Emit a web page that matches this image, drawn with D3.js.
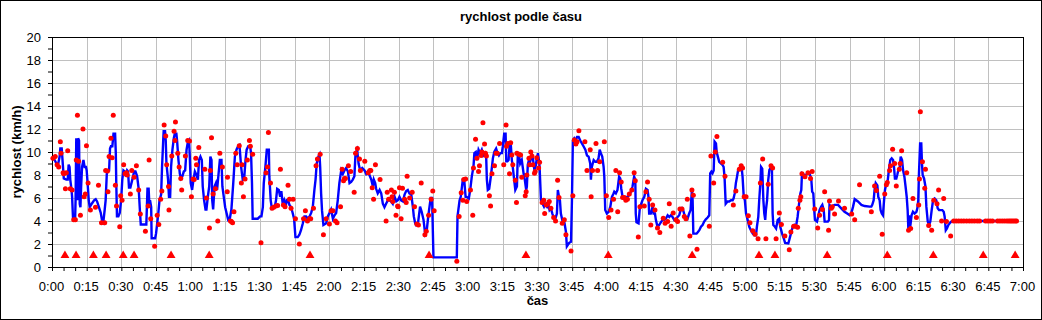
<!DOCTYPE html>
<html>
<head>
<meta charset="utf-8">
<script src="https://cdn.jsdelivr.net/npm/d3@7"></script>
<style>
  body { margin: 0; background: #fff; }
  svg { display: block; }
  text { font-family: "Liberation Sans", Arial, sans-serif; }
</style>
</head>
<body>
<div id="chart"></div>
<script>
// tick labels
var xTickLabels = ["0:00","0:15","0:30","0:45","1:00","1:15","1:30","1:45","2:00","2:15","2:30","2:45",
                   "3:00","3:15","3:30","3:45","4:00","4:15","4:30","4:45","5:00","5:15","5:30","5:45",
                   "6:00","6:15","6:30","6:45","7:00"];
var yTickLabels = ["0","2","4","6","8","10","12","14","16","18","20"];

// blue line: [minute, km/h]
var speedLine = [
  [0,9.45],[1.15,9.3],[1.9,9.0],[2.6,8.9],[3.3,9.6],[3.6,10.3],[4.2,10.3],[4.5,9.45],[5.1,7.7],[6.2,7.6],
  [6.8,7.6],[7.2,8.9],[7.6,8.7],[7.9,7.6],[8.4,6.8],[8.7,6.1],[9.1,4.2],[10.0,4.2],[10.2,5.8],[10.5,11.2],
  [11.0,5.8],[11.3,11.2],[11.7,11.0],[12.0,5.5],[12.3,5.2],[12.6,7.0],[13.0,8.7],[13.6,9.3],[14.1,8.7],[14.7,8.7],
  [15.0,8.4],[15.4,7.3],[15.9,5.8],[16.3,5.2],[17.2,5.5],[18.2,5.8],[18.9,5.9],[19.5,5.7],[20.3,5.2],[21.1,4.7],
  [21.6,4.1],[22.2,3.9],[22.8,5.0],[23.2,5.8],[23.7,8.1],[24.1,8.4],[24.7,8.4],[25.1,10.3],[25.5,10.5],[26.1,10.5],
  [26.6,11.6],[27.3,11.6],[27.6,9.9],[27.8,7.3],[28.1,4.4],[28.7,4.4],[29.3,4.7],[29.9,5.8],[30.4,7.6],[30.9,8.4],
  [31.5,8.3],[31.9,7.9],[32.5,8.4],[32.9,8.3],[33.3,6.9],[33.9,6.9],[34.5,7.4],[35.1,7.9],[35.5,8.3],[36.1,8.3],
  [36.8,7.9],[37.5,6.8],[38.0,5.0],[38.4,3.7],[40.8,3.7],[41.3,6.8],[41.8,6.8],[42.1,5.5],[42.4,5.8],[42.9,5.2],
  [43.1,2.5],[44.6,2.5],[45.0,2.9],[45.5,3.8],[46.0,4.7],[46.5,5.8],[47.2,6.3],[47.6,8.7],[48.1,11.0],[48.3,11.8],
  [48.9,11.8],[49.2,11.0],[49.5,9.0],[50.2,7.6],[50.6,6.1],[51.1,6.1],[51.5,8.7],[52.1,10.2],[52.7,11.2],[53.1,11.6],
  [53.8,11.6],[54.1,11.0],[54.7,9.3],[55.3,8.1],[55.8,7.7],[56.4,7.9],[57.0,8.3],[57.6,8.4],[58.2,10.2],[58.7,10.8],
  [59.3,11.0],[59.6,9.6],[60.0,7.3],[60.6,6.7],[61.2,7.6],[61.8,8.3],[62.5,8.0],[63.1,7.6],[63.6,9.3],[64.2,9.6],
  [64.8,9.3],[65.2,7.0],[65.8,5.8],[66.4,5.0],[66.8,5.0],[67.4,6.1],[68.0,7.0],[68.5,9.6],[69.0,9.3],[69.3,5.8],
  [69.7,5.0],[70.3,7.0],[70.9,7.3],[71.4,6.7],[72.0,8.0],[72.6,9.3],[73.3,9.3],[73.7,7.0],[74.3,6.1],[74.9,5.2],
  [75.5,4.7],[76.2,4.1],[76.9,4.2],[77.6,5.0],[78.4,7.3],[79.1,9.6],[79.8,10.2],[80.5,10.5],[81.1,10.6],[81.8,8.7],
  [82.5,7.6],[83.2,7.9],[83.7,9.3],[84.2,10.2],[84.9,10.5],[85.7,10.5],[86.1,9.9],[86.5,7.3],[86.8,4.2],[89.0,4.2],
  [90.0,4.4],[90.6,4.4],[91.2,5.2],[91.6,7.3],[92.3,8.7],[92.9,10.2],[93.8,10.2],[94.0,7.9],[94.6,5.8],[95.1,5.1],
  [95.8,5.2],[96.5,5.4],[96.9,5.8],[97.4,6.8],[98.1,6.7],[98.7,6.1],[99.2,6.6],[99.8,5.5],[100.4,5.8],[101.0,5.2],
  [101.5,5.8],[102.1,5.8],[102.7,5.4],[103.4,5.2],[104.1,4.7],[104.7,4.2],[105.3,2.6],[106.3,2.6],[107.0,2.8],[107.7,3.2],
  [108.5,3.8],[109.2,4.4],[109.9,4.4],[110.6,4.2],[111.4,4.4],[112.1,4.7],[112.8,5.2],[113.5,6.7],[114.0,7.6],[114.5,9.0],
  [115.0,9.4],[115.4,9.7],[115.7,9.8],[116.0,8.7],[116.4,6.4],[116.8,4.9],[117.4,3.65],[118.6,3.8],[119.3,4.4],[120.0,4.7],
  [120.7,5.0],[121.5,4.2],[122.2,4.5],[122.9,4.7],[123.6,5.8],[124.3,7.3],[125.1,8.4],[125.8,8.1],[126.5,8.4],[127.2,8.6],
  [128.0,8.3],[128.7,7.3],[129.4,7.4],[130.1,7.6],[130.8,7.9],[131.3,9.9],[132.0,10.2],[132.6,9.0],[133.3,8.4],[134.2,8.6],
  [135.2,8.4],[135.9,8.1],[136.6,8.3],[137.3,8.0],[138.1,7.6],[138.8,7.0],[139.2,7.6],[139.8,7.3],[140.2,6.8],[140.9,6.4],
  [141.7,6.7],[142.4,6.4],[143.1,5.5],[143.8,5.2],[144.5,5.5],[145.3,5.8],[146.0,5.8],[146.7,5.7],[147.4,5.5],[148.2,6.1],
  [148.9,5.7],[149.6,5.8],[150.3,6.1],[151.0,5.8],[151.8,5.7],[152.5,6.3],[153.2,6.6],[153.9,6.7],[154.6,6.4],[155.4,6.3],
  [156.1,5.2],[156.5,4.4],[157.1,3.8],[157.5,3.65],[158.3,3.8],[159.2,5.25],[159.9,4.8],[160.7,4.1],[161.4,2.9],[162.1,3.2],
  [162.8,4.5],[163.8,6.0],[164.4,6.0],[165.0,0.84],[175.1,0.84],[175.4,4.4],[176.3,5.8],[176.8,6.1],[177.7,7.6],[178.3,7.6],
  [178.9,6.1],[179.4,6.1],[180.3,5.95],[180.9,6.7],[181.6,7.9],[182.3,8.7],[182.7,9.9],[183.3,10.0],[183.8,9.3],[184.5,10.2],
  [185.2,9.9],[185.9,10.2],[186.6,9.7],[187.4,9.9],[187.8,9.6],[188.1,7.6],[188.5,6.7],[189.1,6.8],[189.8,7.85],[190.3,8.7],
  [190.7,9.45],[191.3,10.0],[192.1,10.3],[192.7,9.9],[193.3,9.7],[193.9,9.9],[194.6,9.9],[195.0,10.5],[195.6,11.6],[196.2,11.6],
  [196.5,9.2],[197.0,9.2],[197.5,9.3],[197.9,10.5],[198.5,10.5],[198.9,9.3],[199.3,8.7],[199.9,7.6],[200.4,6.7],[201.1,7.0],
  [201.5,9.9],[201.9,9.9],[202.5,9.0],[203.2,9.3],[204.0,8.1],[204.5,7.6],[205.1,6.7],[205.4,7.0],[205.8,8.9],[206.3,9.3],
  [206.8,9.15],[207.6,9.7],[208.0,9.45],[208.7,8.4],[209.3,8.85],[209.7,9.45],[210.2,9.9],[210.6,9.3],[210.9,8.7],[211.5,5.8],
  [212.2,5.5],[212.8,5.25],[213.3,5.5],[214.1,5.25],[214.6,5.5],[215.2,4.95],[215.8,5.1],[216.4,4.65],[216.9,4.35],[217.7,4.2],
  [218.4,4.65],[218.8,6.7],[219.3,6.1],[219.7,5.8],[220.1,4.65],[220.7,4.1],[221.3,4.1],[221.7,3.8],[222.3,3.05],[222.7,1.8],
  [223.7,2.1],[224.5,2.2],[224.9,5.8],[225.3,11.0],[225.9,11.2],[226.5,11.0],[227.1,11.3],[227.8,11.3],[228.5,11.0],[229.2,10.75],
  [229.9,10.5],[230.7,10.2],[231.4,9.7],[232.1,9.6],[232.8,9.0],[233.1,7.6],[233.5,8.7],[234.3,9.3],[235.0,9.15],[235.7,9.15],
  [236.4,9.45],[236.9,10.2],[237.4,9.9],[238.0,9.6],[238.6,8.7],[238.9,7.85],[239.3,4.95],[240.0,4.65],[240.8,4.8],[241.5,5.25],
  [242.2,6.1],[242.9,6.4],[243.2,6.55],[243.9,6.4],[244.6,6.7],[245.3,7.85],[245.8,7.7],[246.2,6.85],[246.8,6.1],[247.5,5.95],
  [248.2,6.1],[248.9,6.1],[249.7,6.25],[250.4,6.55],[251.1,7.0],[251.8,7.85],[252.3,7.6],[252.5,4.65],[252.8,3.9],[253.7,3.8],
  [254.3,5.25],[254.7,5.4],[255.4,5.8],[256.2,6.1],[256.9,6.8],[257.6,6.7],[258.0,6.1],[258.3,4.65],[259.0,4.65],[259.8,5.25],
  [260.2,4.65],[260.8,4.65],[261.2,4.1],[261.9,3.5],[262.6,3.65],[263.4,3.9],[264.1,4.1],[264.8,4.1],[265.5,4.2],[266.3,4.5],
  [267.0,4.35],[267.7,4.5],[268.4,4.35],[269.1,4.1],[269.9,4.2],[270.6,4.35],[271.3,4.5],[271.9,4.95],[272.5,5.1],[273.0,4.95],
  [273.6,4.5],[274.2,4.35],[274.9,4.2],[275.6,4.65],[276.2,4.95],[276.8,6.7],[277.1,5.8],[277.4,2.9],[278.8,2.9],[279.4,3.05],
  [280.0,3.2],[280.7,3.5],[281.4,3.65],[282.1,3.95],[282.8,4.15],[283.6,4.3],[284.3,4.5],[284.7,8.15],[285.2,8.3],[285.7,8.15],
  [286.2,8.4],[286.6,10.9],[287.2,10.75],[287.5,10.0],[288.0,9.6],[288.6,9.15],[289.3,9.0],[290.1,8.85],[290.5,8.7],[290.9,7.85],
  [291.4,5.5],[292.2,5.7],[292.9,5.7],[293.7,5.8],[294.4,5.8],[294.8,5.95],[295.3,6.4],[295.8,7.3],[296.3,7.85],[296.8,8.45],
  [297.3,8.6],[297.9,8.7],[298.4,8.45],[298.7,7.85],[299.2,6.1],[299.7,5.8],[300.2,4.65],[300.9,4.1],[301.6,3.5],[302.3,3.2],
  [303.1,2.9],[303.8,2.75],[304.5,2.75],[304.9,3.5],[305.5,4.35],[305.9,5.8],[306.4,7.3],[306.7,8.7],[307.2,8.55],[307.7,5.8],
  [308.1,4.65],[308.5,4.1],[308.8,4.95],[309.3,5.8],[309.8,7.55],[310.3,8.45],[310.8,8.6],[311.4,8.45],[311.7,4.65],[312.0,3.65],
  [312.7,3.5],[313.2,3.35],[313.9,4.1],[314.5,4.2],[315.0,3.5],[315.8,2.9],[316.5,2.5],[317.1,2.1],[318.5,2.05],[318.9,2.35],
  [319.6,2.9],[320.4,3.5],[321.1,3.65],[321.8,3.5],[322.5,4.35],[323.3,5.8],[323.7,6.4],[324.1,6.7],[324.4,8.15],[325.4,8.0],
  [326.1,8.0],[326.9,8.15],[327.6,8.15],[328.4,7.7],[328.8,6.55],[329.3,6.4],[329.7,4.95],[330.0,4.1],[330.9,3.95],[331.4,4.4],
  [332.0,4.95],[332.7,5.25],[333.2,5.4],[333.8,4.95],[334.2,3.95],[335.6,3.95],[336.1,4.1],[336.3,5.4],[337.1,5.25],[338.5,5.4],
  [340.0,5.4],[341.4,5.1],[342.8,4.8],[344.3,4.6],[345.0,4.5],[345.7,4.65],[346.5,5.25],[347.2,5.9],[348.6,5.7],[350.1,5.4],
  [351.5,5.3],[353.7,5.25],[354.4,5.25],[354.8,5.4],[355.4,5.8],[355.8,6.7],[356.3,7.3],[357.0,7.1],[357.4,6.1],[358.0,5.8],
  [358.4,4.95],[358.9,4.65],[359.4,4.5],[359.9,5.8],[360.3,6.7],[360.9,7.3],[361.5,7.55],[362.0,8.45],[362.6,9.3],[363.2,9.45],
  [363.8,9.3],[364.2,8.7],[364.6,7.7],[365.2,7.7],[365.6,8.0],[366.1,8.45],[366.7,8.7],[367.1,9.6],[367.7,9.3],[368.1,8.45],
  [368.7,7.85],[369.2,7.0],[369.7,6.1],[370.1,4.95],[370.4,3.35],[370.7,4.5],[371.0,3.2],[371.4,3.8],[371.8,4.5],[372.4,4.8],
  [373.1,4.65],[373.9,4.8],[374.3,5.1],[374.7,5.8],[375.0,8.15],[375.5,10.75],[376.0,10.75],[376.3,9.0],[376.6,8.0],[377.2,7.7],
  [377.8,7.0],[378.2,5.25],[378.8,3.95],[379.4,3.65],[379.9,3.95],[380.5,4.95],[381.1,5.8],[381.8,5.95],[382.5,5.8],[383.1,5.1],
  [383.7,4.95],[385.1,4.95],[385.7,4.8],[386.1,4.4],[386.6,3.2],[387.1,3.35],[387.7,3.65],[388.3,3.8],[389.0,3.95],[389.7,4.0],
  [417.2,4.0]
];

// red dots: [minute, km/h]
var speedPoints = [
  [0.4,9.45],[1.4,9.6],[2.2,8.9],[2.9,8.7],[3.6,10.9],[3.9,9.9],[4.8,8.2],[5.1,8.1],[5.8,6.8],[6.2,8.2],
  [6.8,10.1],[7.9,6.8],[8.7,6.7],[9.4,4.1],[10.1,4.1],[10.5,9.3],[11.0,13.2],[11.5,9.2],[12.3,4.5],[13.4,12.0],
  [13.9,6.1],[14.4,6.35],[14.9,10.55],[15.6,7.3],[16.6,4.95],[18.8,5.2],[20.1,7.1],[21.4,3.85],[22.8,3.85],[23.2,8.4],
  [24.0,8.35],[24.2,6.55],[24.7,9.6],[25.5,11.2],[26.0,9.5],[26.5,13.2],[27.4,7.1],[27.9,5.3],[29.3,3.5],[29.7,6.2],
  [30.3,5.8],[31.0,8.9],[31.6,8.1],[32.2,8.2],[32.5,8.0],[33.9,6.35],[34.5,8.4],[35.5,7.8],[36.5,8.8],[37.5,6.7],
  [38.2,4.6],[40.4,3.1],[41.6,5.3],[42.0,9.3],[42.7,4.2],[44.4,1.8],[45.5,4.5],[46.2,3.7],[47.0,5.9],[47.5,6.6],
  [48.5,12.35],[49.2,11.4],[49.6,8.9],[50.4,7.0],[50.6,4.95],[51.8,9.65],[52.8,11.8],[53.4,12.6],[53.2,11.0],[54.4,9.9],
  [55.0,8.7],[55.7,7.7],[56.1,6.7],[57.7,9.65],[58.7,11.0],[59.5,10.95],[60.3,6.1],[61.0,7.65],[61.5,7.6],[62.2,9.45],
  [62.5,8.9],[63.5,10.4],[66.1,8.5],[66.8,6.0],[68.1,3.4],[68.5,8.4],[69.0,11.25],[69.7,6.35],[70.7,6.8],[71.7,4.0],
  [72.6,9.9],[73.7,8.7],[75.8,6.55],[75.9,7.8],[77.2,4.0],[77.6,3.95],[78.1,3.85],[78.7,4.8],[79.5,9.9],[80.1,8.9],
  [81.0,10.55],[81.9,7.3],[82.2,8.9],[82.8,6.1],[83.5,7.65],[84.5,9.3],[85.4,11.0],[85.8,10.5],[86.8,9.8],[90.4,2.1],
  [92.6,8.2],[93.2,8.7],[93.6,11.7],[94.5,7.3],[95.2,5.1],[95.9,5.2],[96.9,5.3],[97.6,5.35],[98.8,8.5],[100.1,5.4],
  [100.8,5.25],[102.1,7.1],[102.7,5.9],[103.4,5.1],[104.3,5.9],[105.3,4.2],[107.0,2.0],[108.8,4.2],[109.6,4.9],[110.5,4.0],
  [111.4,4.2],[111.9,4.2],[113.1,5.1],[114.2,8.8],[114.8,9.4],[116.0,9.8],[117.4,2.8],[118.6,4.2],[120.0,3.75],[120.7,4.9],
  [121.5,4.9],[122.6,4.0],[123.3,3.85],[124.8,5.25],[125.5,8.5],[126.1,7.5],[126.5,7.7],[126.9,7.7],[128.2,8.8],[129.2,8.3],
  [130.7,6.5],[131.3,9.9],[132.1,10.3],[133.0,9.4],[133.4,8.4],[135.3,9.2],[136.8,8.2],[137.5,8.4],[137.9,8.4],[138.5,6.9],
  [139.1,5.9],[139.9,8.9],[141.9,7.6],[144.5,4.0],[145.0,6.5],[145.6,5.9],[146.8,6.7],[147.1,6.1],[147.4,5.7],[148.1,6.5],
  [148.8,4.5],[149.5,5.3],[149.7,5.25],[150.3,6.9],[151.0,4.2],[151.6,6.85],[152.5,5.9],[153.2,5.6],[153.6,7.9],[154.7,6.0],
  [155.8,6.5],[156.8,5.25],[157.8,3.75],[158.5,3.65],[159.7,7.3],[161.3,2.8],[161.9,3.1],[162.9,4.5],[164.0,5.9],[164.7,6.6],
  [165.3,4.9],[175.1,0.5],[176.1,4.4],[177.0,6.45],[177.7,5.8],[178.1,7.6],[178.9,7.65],[179.4,5.7],[181.0,6.7],[182.0,4.5],
  [182.3,8.6],[183.2,11.1],[183.8,9.45],[184.5,8.3],[184.9,8.8],[185.6,9.7],[186.0,10.0],[186.4,12.55],[187.1,10.7],[187.5,9.9],
  [187.9,9.65],[189.2,6.2],[189.7,5.3],[190.3,8.1],[191.4,8.8],[192.1,9.9],[192.6,9.9],[193.6,10.75],[195.4,8.9],[196.4,12.35],
  [196.6,10.5],[197.2,10.75],[197.9,8.1],[198.4,10.8],[198.9,9.75],[199.3,8.9],[200.4,7.55],[200.9,5.6],[201.1,9.9],[202.0,9.8],
  [202.7,9.75],[203.2,7.8],[204.7,6.2],[205.1,6.55],[205.4,8.0],[206.3,9.45],[206.6,8.9],[207.1,10.0],[207.6,9.65],[208.0,8.9],
  [208.7,8.15],[209.0,8.3],[209.7,9.5],[210.5,8.6],[210.9,9.1],[212.0,5.6],[212.7,5.8],[213.1,4.65],[213.8,5.4],[214.5,5.5],
  [215.1,5.7],[215.8,5.1],[217.0,4.3],[217.8,4.0],[218.7,7.55],[219.3,6.05],[220.7,3.8],[221.6,4.1],[222.3,2.8],[224.5,1.4],
  [225.3,6.2],[225.9,11.05],[226.6,10.7],[227.1,10.9],[227.9,11.85],[230.5,10.9],[231.4,8.4],[232.8,10.2],[233.2,6.1],[233.8,8.4],
  [235.3,10.75],[236.0,8.4],[236.9,9.15],[238.9,10.9],[239.8,6.2],[240.8,4.3],[241.8,4.95],[242.9,5.9],[243.9,8.4],[244.7,4.8],
  [245.5,8.2],[246.2,7.4],[246.8,6.05],[247.5,6.05],[248.2,5.8],[248.9,5.9],[249.7,6.35],[250.8,6.7],[251.8,8.2],[252.3,7.5],
  [253.6,2.6],[254.3,5.25],[256.2,5.3],[256.9,6.55],[257.6,7.4],[258.3,5.9],[259.0,3.65],[259.8,5.4],[260.8,4.95],[261.9,3.4],
  [262.9,3.0],[264.4,4.25],[265.2,3.8],[266.3,3.95],[267.0,5.5],[267.8,3.55],[268.7,4.7],[269.9,4.1],[270.6,3.95],[271.6,5.05],
  [272.5,5.05],[273.5,4.4],[274.2,4.2],[274.8,5.9],[275.9,2.7],[276.8,6.7],[277.4,6.25],[279.0,1.55],[284.3,3.55],[285.0,9.65],
  [286.2,7.3],[286.9,10.0],[287.6,11.35],[290.1,9.1],[291.1,7.9],[294.7,5.4],[295.8,6.6],[297.3,8.5],[298.1,8.8],[298.7,8.6],
  [299.4,6.1],[300.2,6.1],[301.2,4.45],[301.9,3.85],[303.1,3.15],[304.1,2.85],[305.4,2.45],[306.4,7.3],[307.4,9.4],[308.8,2.45],
  [309.8,7.2],[311.0,8.8],[311.7,8.6],[313.2,2.45],[314.6,4.7],[315.5,3.7],[317.0,2.7],[318.9,1.5],[319.6,3.05],[320.8,3.55],
  [321.5,3.55],[322.5,3.45],[322.8,5.1],[323.5,5.8],[323.9,6.1],[324.4,8.1],[325.7,7.85],[327.0,8.2],[328.1,7.7],[328.8,8.3],
  [329.9,5.05],[331.2,3.4],[332.0,4.5],[333.2,5.0],[334.2,6.55],[335.9,3.2],[336.3,5.75],[337.1,5.1],[337.5,5.25],[338.5,4.6],
  [340.2,5.75],[342.8,5.1],[345.9,4.6],[347.2,4.1],[349.3,7.15],[354.4,4.8],[355.8,7.05],[356.6,6.65],[358.0,7.9],[359.1,2.85],
  [360.2,6.35],[360.9,7.15],[361.3,7.35],[362.3,8.4],[362.7,8.8],[363.6,10.25],[364.5,9.0],[365.2,7.05],[366.5,8.5],[366.9,9.0],
  [367.5,10.1],[369.7,8.2],[370.5,3.2],[371.4,3.35],[372.4,5.95],[373.9,4.3],[374.9,5.4],[375.2,7.65],[375.6,13.5],[376.5,9.15],
  [377.5,6.85],[377.8,8.5],[379.2,3.6],[380.5,3.2],[381.4,5.8],[382.8,5.5],[383.5,6.7],[384.8,4.0],[385.7,5.95],[386.9,3.95],
  [388.7,2.7],[390.0,4],[391.1,4],[392.2,4],[393.3,4],[394.4,4],[395.6,4],[396.8,4],[397.9,4],[399.0,4],
  [400.2,4],[401.2,4],[403.8,4],[404.8,4],[405.8,4],[406.8,4],[409.0,4],[410.0,4],[411.0,4],[412.0,4],
  [413.0,4],[413.8,4],[414.5,4],[415.2,4],[415.9,4],[416.6,4],[417.2,4]
];

// red triangles (minutes), all drawn at 1 km/h
var markerMinutes = [5.6,10.4,17.9,23.4,30.8,35.5,51.5,68.0,111.6,163.1,205.0,240.6,276.9,305.8,312.7,335.3,361.3,381.2,402.8,416.6];
var markerSpeed = 1;

var width = 1042, height = 320;
var margin = {top: 37, right: 19, bottom: 53, left: 52},
    plotW = width - margin.left - margin.right,
    plotH = height - margin.top - margin.bottom;

function toMinutes(lbl) {
  var p = lbl.split(":");
  return (+p[0]) * 60 + (+p[1]);
}
var xMajor = xTickLabels.map(toMinutes);
var yMajor = yTickLabels.map(Number);

var svg = d3.select("#chart").append("svg")
    .attr("width", width)
    .attr("height", height);

// outer frame
svg.append("rect")
    .attr("x", 0.5).attr("y", 0.5)
    .attr("width", width - 1).attr("height", height - 1)
    .attr("fill", "#fff").attr("stroke", "#000");

var g = svg.append("g")
    .attr("transform", "translate(" + margin.left + "," + margin.top + ")");

var x = d3.scaleLinear().domain([0, 420]).range([0, plotW]);
var y = d3.scaleLinear().domain([0, 20]).range([plotH, 0]);

// grid
g.selectAll(".hgrid").data(yMajor.slice(1, -1)).enter()
  .append("line")
    .attr("x1", 0).attr("x2", plotW)
    .attr("y1", function(d){ return Math.round(y(d)) + 0.5; })
    .attr("y2", function(d){ return Math.round(y(d)) + 0.5; })
    .attr("stroke", "#c0c0c0");
g.selectAll(".vgrid").data(xMajor.slice(1, -1)).enter()
  .append("line")
    .attr("y1", 0).attr("y2", plotH)
    .attr("x1", function(d){ return Math.round(x(d)) + 0.5; })
    .attr("x2", function(d){ return Math.round(x(d)) + 0.5; })
    .attr("stroke", "#c0c0c0");

// plot border
g.append("rect")
    .attr("x", 0.5).attr("y", 0.5)
    .attr("width", Math.round(plotW)).attr("height", Math.round(plotH))
    .attr("fill", "none").attr("stroke", "#000");

// axes
var yAxis = d3.axisLeft(y)
    .tickValues(d3.range(0, 21, 1))
    .tickSize(4).tickPadding(7)
    .tickFormat(function(d){ return yMajor.indexOf(d) >= 0 ? yTickLabels[yMajor.indexOf(d)] : ""; });
var gy = g.append("g").call(yAxis);

var xAxis = d3.axisBottom(x)
    .tickValues(d3.range(0, 421, 5))
    .tickSize(4).tickPadding(11)
    .tickFormat(function(d){ return xMajor.indexOf(d) >= 0 ? xTickLabels[xMajor.indexOf(d)] : ""; });
var gx = g.append("g")
    .attr("transform", "translate(0," + plotH + ")")
    .call(xAxis);

[gx, gy].forEach(function(a){
  a.select(".domain").attr("stroke", "#000");
  a.selectAll(".tick line").attr("stroke", "#000");
  a.selectAll(".tick text")
    .attr("fill", "#000")
    .style("font-size", "13px")
    .style("font-family", "'Liberation Sans', Arial, sans-serif");
});
gx.selectAll(".tick text").attr("dx", "-1");

// speed line
var line = d3.line()
    .x(function(d){ return x(d[0]); })
    .y(function(d){ return y(d[1]); });

g.append("path")
    .datum(speedLine)
    .attr("d", line)
    .attr("fill", "none")
    .attr("stroke", "#0000ff")
    .attr("stroke-width", 2.4)
    .attr("stroke-linejoin", "miter");

// dots
g.append("g").selectAll("circle")
  .data(speedPoints).enter()
  .append("circle")
    .attr("cx", function(d){ return x(d[0]); })
    .attr("cy", function(d){ return y(d[1]); })
    .attr("r", 2.5)
    .attr("fill", "#ff0000");

// triangles
g.append("g").selectAll("path")
  .data(markerMinutes).enter()
  .append("path")
    .attr("d", d3.symbol().type(d3.symbolTriangle).size(34))
    .attr("transform", function(d){ return "translate(" + x(d) + "," + y(markerSpeed) + ")"; })
    .attr("fill", "#ff0000");

// titles
svg.append("text")
    .attr("x", width / 2).attr("y", 21)
    .attr("text-anchor", "middle")
    .style("font-size", "13px").style("font-weight", "bold")
    .text("rychlost podle času");

svg.append("text")
    .attr("x", margin.left + plotW / 2).attr("y", 305)
    .attr("text-anchor", "middle")
    .style("font-size", "13px").style("font-weight", "bold")
    .text("čas");

svg.append("text")
    .attr("transform", "translate(21," + (margin.top + plotH / 2) + ") rotate(-90)")
    .attr("text-anchor", "middle")
    .style("font-size", "13px").style("font-weight", "bold")
    .text("rychlost (km/h)");
</script>
</body>
</html>
